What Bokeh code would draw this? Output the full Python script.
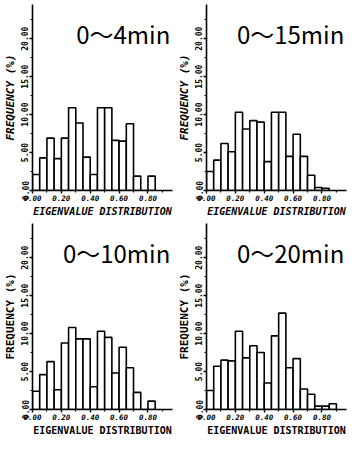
import numpy as np
from bokeh.plotting import figure
from bokeh.layouts import column, row
from bokeh.models import Range1d, FixedTicker, PrintfTickFormatter, Label
from bokeh.embed import file_html
from bokeh.resources import INLINE

# ---- data ----
titles = ["0〜4min", "0〜15min", "0〜10min", "0〜20min"]
freq_0_4 = [2.1, 4.3, 6.9, 4.2, 6.9, 10.9, 8.9, 4.4, 2.1, 10.9, 10.9, 6.6, 6.5, 8.8, 1.9, 0.0, 1.9]
freq_0_15 = [2.5, 4.0, 6.2, 5.1, 10.3, 8.1, 9.2, 9.0, 3.8, 10.3, 10.3, 4.5, 7.4, 4.5, 2.0, 0.4, 0.3]
freq_0_10 = [2.4, 4.6, 6.3, 2.6, 8.75, 10.8, 9.3, 9.3, 3.0, 10.3, 9.5, 4.8, 8.2, 5.5, 2.25, 0.0, 1.1]
freq_0_20 = [2.5, 5.7, 6.5, 6.4, 10.3, 6.8, 8.4, 7.5, 3.5, 9.7, 12.7, 5.5, 6.7, 2.7, 2.0, 0.45, 0.45, 0.75]
bin_width = 0.05
y_ticks = [0, 5, 10, 15, 20]
y_minor = [2.5, 7.5, 12.5, 17.5, 22.5]
x_ticks = [0.0, 0.2, 0.4, 0.6, 0.8]
x_minor = [0.1, 0.3, 0.5, 0.7, 0.9]
x_label = "EIGENVALUE DISTRIBUTION"
y_label = "FREQUENCY (%)"

MONO = "DejaVu Sans Mono"


def panel(title, freqs, italic):
    p = figure(width=174, height=219, output_backend="svg", toolbar_location=None,
               x_range=Range1d(0, 0.97), y_range=Range1d(0, 24.5),
               min_border_left=10, min_border_right=2, min_border_top=4,
               min_border_bottom=10, background_fill_color="white",
               border_fill_color="white")
    p.outline_line_color = None
    p.xgrid.visible = False
    p.ygrid.visible = False
    lefts = np.arange(len(freqs)) * bin_width
    p.quad(left=lefts, right=lefts + bin_width, bottom=0, top=freqs,
           fill_color="white", line_color="black", line_width=1.6)

    for ax in (p.xaxis[0], p.yaxis[0]):
        ax.axis_line_color = "black"
        ax.axis_line_width = 1.6
        ax.major_tick_line_color = "black"
        ax.major_tick_line_width = 1.4
        ax.minor_tick_line_color = "black"
        ax.minor_tick_line_width = 1.2
        ax.major_tick_in = 0
        ax.major_tick_out = 3
        ax.minor_tick_in = 0
        ax.minor_tick_out = 2
        ax.major_label_text_color = "black"
        ax.major_label_text_font = MONO
        ax.major_label_text_font_style = "bold"
        ax.axis_label_text_color = "black"
        ax.axis_label_text_font = MONO
        ax.axis_label_text_font_style = "bold italic" if italic else "bold"
        ax.formatter = PrintfTickFormatter(format="%.2f")

    p.xaxis.ticker = FixedTicker(ticks=x_ticks, minor_ticks=x_minor)
    p.yaxis.ticker = FixedTicker(ticks=y_ticks, minor_ticks=y_minor)
    p.xaxis.major_label_text_font_size = "7.5px"
    p.xaxis.major_label_text_font_style = "bold italic"
    p.xaxis.major_label_standoff = 1
    p.xaxis.axis_label = x_label
    p.xaxis.axis_label_text_font_size = "10px"
    p.xaxis.axis_label_standoff = 2

    p.yaxis.major_label_text_font_size = "8px"
    p.yaxis.major_label_orientation = "vertical"
    p.yaxis.major_label_standoff = 1
    p.yaxis.axis_label = y_label
    p.yaxis.axis_label_text_font_size = "11px"
    p.yaxis.axis_label_standoff = 2

    p.add_layout(Label(x=0.955, y=20.7, text=title, text_align="right",
                       text_baseline="middle", text_font="Noto Sans CJK JP",
                       text_font_size="24px", text_color="black"))
    return p


p1 = panel(titles[0], freq_0_4, True)
p2 = panel(titles[1], freq_0_15, True)
p3 = panel(titles[2], freq_0_10, False)
p4 = panel(titles[3], freq_0_20, False)

layout = column(row(p1, p2), row(p3, p4))
open("out.html", "w").write(file_html(layout, INLINE))
